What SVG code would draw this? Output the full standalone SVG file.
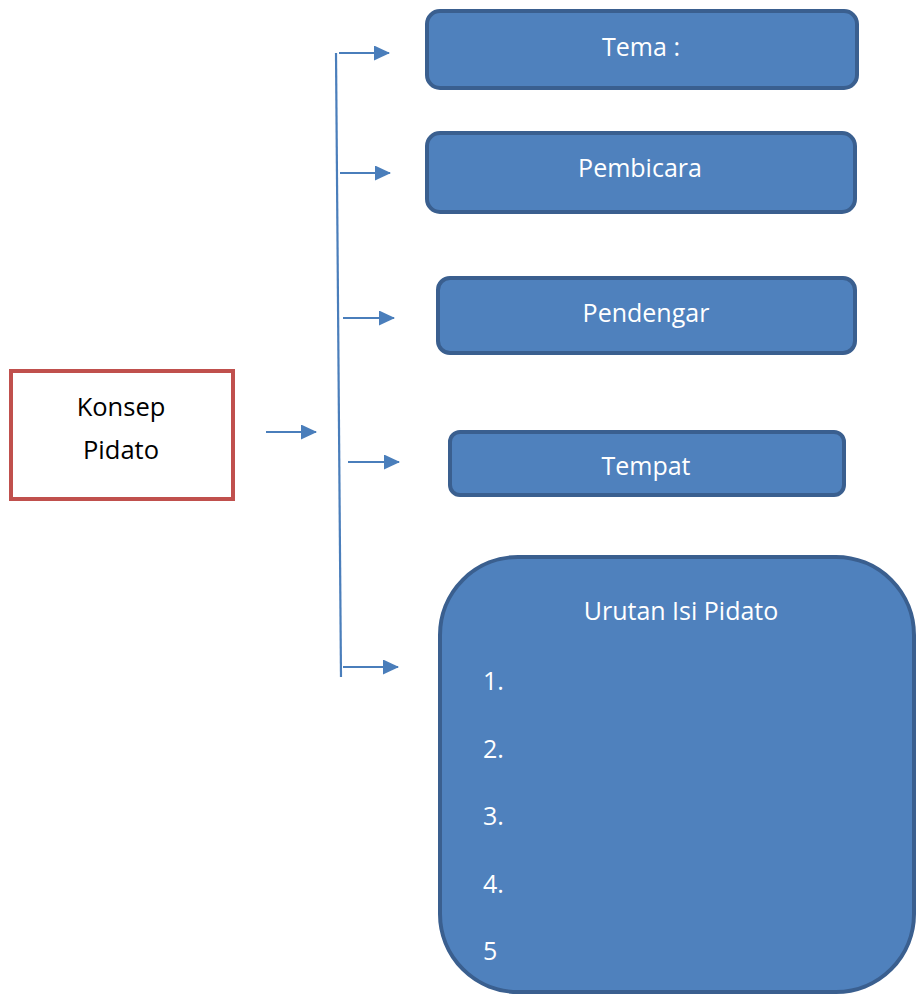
<svg xmlns="http://www.w3.org/2000/svg" width="916" height="994" viewBox="0 0 916 994">
<defs>
<marker id="ah" markerWidth="16" markerHeight="15" refX="15" refY="7.5" orient="auto" markerUnits="userSpaceOnUse">
<path d="M0,0 L16,7.5 L0,15 Z" fill="#4a7ebb"/>
</marker>
<style>
.box{fill:#4f81bd;stroke:#3a5f8f;stroke-width:4}
.wt{font-family:"Open Sans","Liberation Sans",sans-serif;font-size:25px;fill:#ffffff}
.bt{font-family:"Open Sans","Liberation Sans",sans-serif;font-size:25.5px;fill:#000000}
.c{stroke:#4a7ebb;stroke-width:2.2;fill:none}
</style>
</defs>
<rect width="916" height="994" fill="#ffffff"/>
<g id="connectors">
<line class="c" x1="336" y1="53" x2="341" y2="677"/>
<line class="c" x1="339" y1="53" x2="389" y2="53" marker-end="url(#ah)"/>
<line class="c" x1="340" y1="173" x2="390" y2="173" marker-end="url(#ah)"/>
<line class="c" x1="343" y1="318" x2="394" y2="318" marker-end="url(#ah)"/>
<line class="c" x1="348" y1="462" x2="399" y2="462" marker-end="url(#ah)"/>
<line class="c" x1="343" y1="667" x2="398" y2="667" marker-end="url(#ah)"/>
<line class="c" x1="266" y1="432" x2="316" y2="432" marker-end="url(#ah)"/>
</g>
<g id="konsep">
<rect x="11" y="371" width="222" height="128" fill="#ffffff" stroke="#c0504d" stroke-width="4"/>
<text class="bt" x="121" y="416" text-anchor="middle">Konsep</text>
<text class="bt" x="121" y="459" text-anchor="middle">Pidato</text>
</g>
<g id="tema">
<rect class="box" x="427" y="11" width="430" height="77" rx="13"/>
<text class="wt" x="641" y="56" text-anchor="middle">Tema :</text>
</g>
<g id="pembicara">
<rect class="box" x="427" y="133" width="428" height="79" rx="13"/>
<text class="wt" x="640" y="177" text-anchor="middle">Pembicara</text>
</g>
<g id="pendengar">
<rect class="box" x="438" y="278" width="417" height="75" rx="12"/>
<text class="wt" x="646" y="322" text-anchor="middle">Pendengar</text>
</g>
<g id="tempat">
<rect class="box" x="450" y="432" width="394" height="63" rx="10"/>
<text class="wt" x="646" y="475" text-anchor="middle">Tempat</text>
</g>
<g id="urutan">
<rect class="box" x="440" y="557" width="474" height="435" rx="78"/>
<text class="wt" x="681" y="620" text-anchor="middle">Urutan Isi Pidato</text>
<text class="wt" x="483" y="690">1.</text>
<text class="wt" x="483" y="758">2.</text>
<text class="wt" x="483" y="825">3.</text>
<text class="wt" x="483" y="893">4.</text>
<text class="wt" x="483" y="960">5</text>
</g>
</svg>
